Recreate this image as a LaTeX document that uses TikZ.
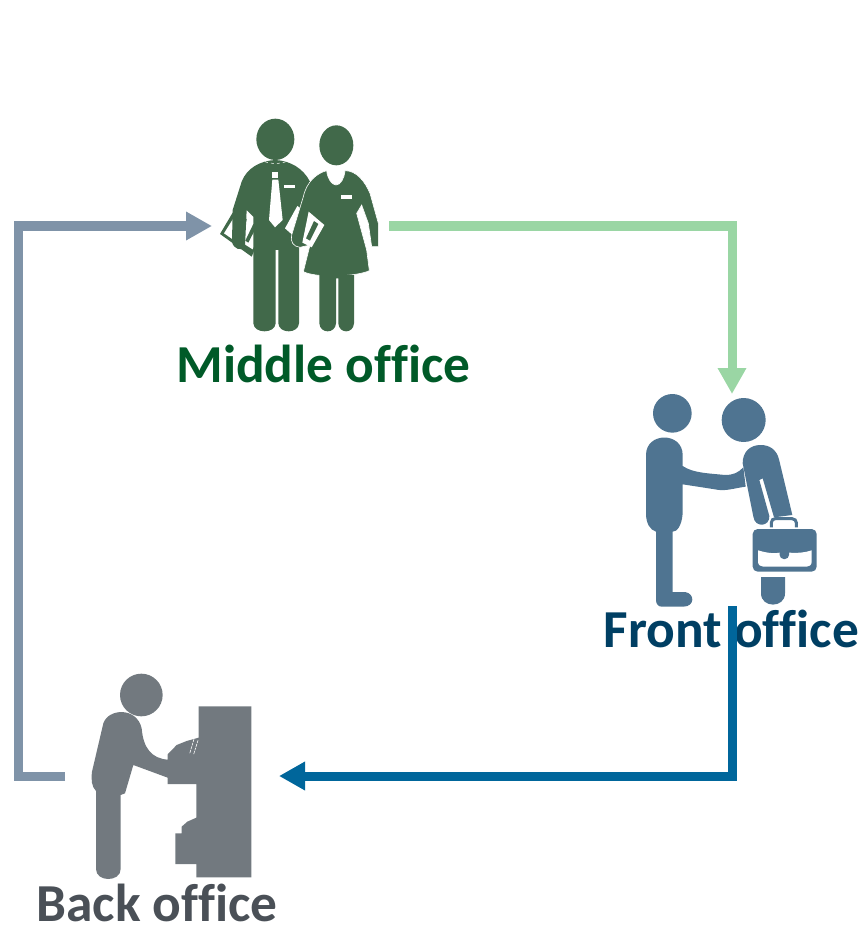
\documentclass[tikz,border=0pt]{standalone}
\usepackage{fontspec}
\setmainfont[RawFeature={-liga;-clig;-dlig}]{Carlito}
\usetikzlibrary{arrows.meta}
\definecolor{mgreen}{HTML}{41694A}
\definecolor{fblue}{HTML}{4F7491}
\definecolor{bgray}{HTML}{72797F}
\definecolor{arrgray}{HTML}{7F93A8}
\definecolor{arrgreen}{HTML}{9AD6A4}
\definecolor{arrblue}{HTML}{00669B}
\definecolor{tgreen}{HTML}{005A28}
\definecolor{tblue}{HTML}{003F63}
\definecolor{tgray}{HTML}{4A5057}
\tikzset{
  figbox/.style={inner sep=0pt,outer sep=0pt,draw=none,fill=none},
  lab/.style={font=\bfseries\fontsize{53.4}{56}\selectfont,inner sep=0pt,anchor=center},
  conn/.style={line width=9pt,fill=none,-{Triangle[length=26pt,width=27pt]}},
  wline/.style={draw=white,line width=0.5pt}
}
\begin{document}
\begin{tikzpicture}[x=1pt,y=-1pt]
\useasboundingbox (0,0) rectangle (862,925);
% anchors for connectors
\node[figbox,minimum width=177pt,minimum height=210pt] (middle) at (300.5,226) {};
\node[figbox,minimum width=170pt,minimum height=212pt] (front) at (732,500) {};
\node[figbox,minimum width=214pt,minimum height=200pt] (back) at (172,776) {};
\coordinate (corner) at (18,500);
% ---- Middle office figures
\begin{scope}[shift={(210,110)},scale=1/3,x=1pt,y=-1pt]
  % left folder
  \fill[mgreen] (30,372) -- (68,308) -- (162,352) -- (125,440) -- cycle;
  \fill[white] (42,370) -- (72,322) -- (110,340) -- (100,410) -- cycle;
  \fill[white] (112,320) -- (160,355) -- (128,418) -- (96,398) -- cycle;
  \fill[mgreen] (130,342) -- (140,349) -- (115,398) -- (106,392) -- cycle;
  % man
  \fill[mgreen] (196,150) .. controls (150,152) and (110,175) .. (95,215)
    -- (68,300) -- (66,395) .. controls (70,418) and (95,425) .. (105,410)
    -- (110,300) -- (130,320) -- (130,640) .. controls (132,672) and (195,672) .. (197,640)
    -- (197,420) -- (205,420) -- (205,640) .. controls (207,672) and (265,672) .. (267,640)
    -- (267,420) -- (270,330) -- (300,215) .. controls (280,175) and (240,152) .. (196,150) -- cycle;
  \fill[mgreen] (196,88) ellipse [x radius=57,y radius=62];
  \draw[wline,dashed] (165,155) .. controls (180,162) and (212,162) .. (228,155);
  % tie and badge
  \fill[white] (187,185) -- (205,185) -- (205,203) -- (187,203) -- cycle;
  \fill[white] (187,209) -- (205,209) -- (218,330) -- (195,352) -- (177,330) -- cycle;
  \fill[white] (222,225) -- (256,225) -- (256,235) -- (222,235) -- cycle;
  % right folder
  \fill[white] (225,355) -- (262,288) -- (343,345) -- (305,412) -- (270,395) -- cycle;
  % woman
  \fill[mgreen,draw=white,line width=0.6pt] (350,182) .. controls (352,205) and (365,225) .. (378,225)
    .. controls (392,225) and (403,205) .. (405,182)
    .. controls (440,182) and (465,215) .. (480,250)
    -- (505,340) -- (505,410) -- (485,410) -- (475,340) -- (455,285) -- (440,310)
    -- (470,420) -- (478,482) .. controls (440,500) and (320,505) .. (280,485)
    -- (300,405) -- (270,412) .. controls (250,410) and (240,395) .. (245,375)
    -- (280,260) .. controls (290,215) and (320,190) .. (350,182) -- cycle;
  \fill[mgreen] (328,495) -- (328,640) .. controls (330,672) and (376,672) .. (378,640)
    -- (378,505) -- (385,505) -- (385,640) .. controls (387,672) and (430,672) .. (432,640) -- (432,495) -- cycle;
  \fill[mgreen] (379,106) ellipse [x radius=51,y radius=60];
  \fill[white] (394,256) -- (426,256) -- (426,267) -- (394,267) -- cycle;
  % folder on the woman's side
  \fill[white] (296,305) -- (343,345) -- (305,412) -- (277,398) -- cycle;
  \fill[mgreen] (312,333) -- (325,342) -- (300,392) -- (288,385) -- cycle;
\end{scope}
% ---- Front office figures
\begin{scope}[shift={(630,380)},scale=1/3,x=1pt,y=-1pt]
  \fill[fblue] (127,100) circle [radius=58];
  \fill[fblue] (341,120) circle [radius=66];
  % left person
  \fill[fblue] (48,225) .. controls (48,155) and (158,155) .. (158,225) -- (158,258)
    .. controls (190,280) and (240,280) .. (285,285)
    .. controls (310,285) and (325,278) .. (340,262) -- (347,320)
    .. controls (310,325) and (285,335) .. (255,328)
    -- (158,313) -- (158,400) .. controls (155,440) and (140,455) .. (128,455)
    -- (128,636) -- (165,636) .. controls (195,640) and (195,680) .. (160,680)
    -- (95,680) .. controls (85,680) and (78,672) .. (78,660) -- (78,455)
    .. controls (60,450) and (48,430) .. (48,400) -- cycle;
  % right person
  \fill[fblue] (338,250) .. controls (338,215) and (360,195) .. (392,195)
    .. controls (420,195) and (440,210) .. (447,238)
    -- (487,405) -- (432,412) -- (398,295) -- (388,300) -- (418,408)
    .. controls (420,440) and (375,445) .. (370,410) -- cycle;
  % briefcase
  \draw[fblue,line width=3pt] (424,442) -- (424,428) .. controls (424,420) and (430,416) .. (436,416)
    -- (486,416) .. controls (494,416) and (499,422) .. (499,428) -- (499,442);
  \fill[fblue,rounded corners=5pt] (368,447) rectangle (560,575);
  \fill[white] (384,511) .. controls (420,522) and (440,520) .. (448,518) -- (478,518)
    .. controls (500,520) and (525,518) .. (545,511) -- (545,545)
    .. controls (545,555) and (538,560) .. (530,560) -- (400,560)
    .. controls (392,560) and (384,555) .. (384,545) -- cycle;
  \fill[fblue,rounded corners=4pt] (449,500) rectangle (477,537);
  \fill[fblue] (393,591) -- (465,591) -- (465,640) .. controls (465,685) and (393,685) .. (393,640) -- cycle;
\end{scope}
% ---- Back office figures
\begin{scope}[shift={(80,665)},scale=1/3,x=1pt,y=-1pt]
  \fill[bgray] (184,90) circle [radius=64];
  \fill[bgray] (356,124) -- (514,124) -- (514,637) -- (349,637) -- (349,597) -- (286,597) -- (286,505)
    -- (305,505) -- (305,485) -- (322,470) -- (349,458) -- (349,357) -- (263,357) -- (263,338)
    -- (160,300) -- (135,385) -- (122,390) -- (122,612)
    .. controls (122,652) and (48,652) .. (48,612) -- (48,378)
    .. controls (35,365) and (33,345) .. (36,320)
    -- (70,175) .. controls (85,130) and (170,125) .. (185,190)
    .. controls (190,250) and (215,280) .. (263,284)
    -- (263,268) -- (290,240) -- (320,228) -- (356,218) -- cycle;
  \draw[white,line width=0.6pt,dash pattern=on 3pt off 0.8pt] (342,222) -- (329,266);
  \draw[white,line width=0.6pt,dash pattern=on 3pt off 0.8pt] (354,226) -- (341,268);
\end{scope}
% ---- Labels
\node[lab,text=tgreen] (lm) at (323.5,364) {Middle office};
\node[lab,text=tblue] (lf) at (731.5,629) {Front office};
\node[lab,text=tgray] (lb) at (157,903) {Back office};
% ---- Connectors
\draw[conn,draw=arrgray] (back.west) -| (corner) |- (middle.west);
\draw[conn,draw=arrgreen] (middle.east) -| (front.north);
\draw[conn,draw=arrblue] (front.south) |- (back.east);
\end{tikzpicture}
\end{document}
